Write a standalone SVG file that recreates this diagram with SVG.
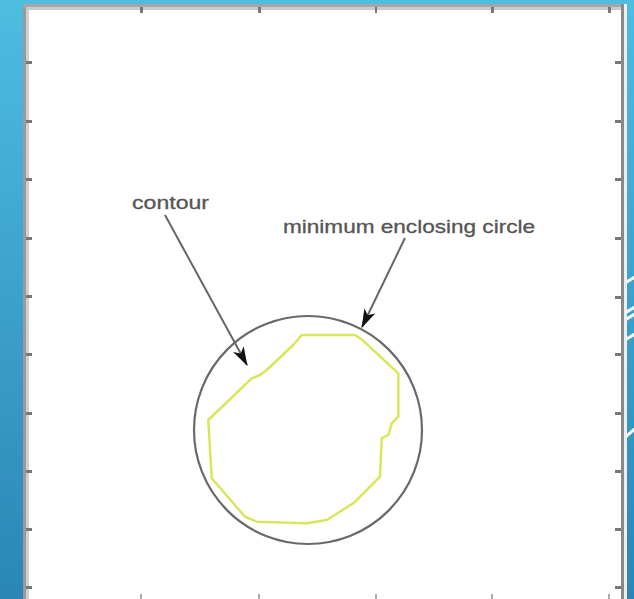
<svg xmlns="http://www.w3.org/2000/svg" width="634" height="599" viewBox="0 0 634 599">
  <defs>
    <linearGradient id="bg" x1="0" y1="0" x2="0" y2="1">
      <stop offset="0" stop-color="#4dbde0"/>
      <stop offset="1" stop-color="#2b86b5"/>
    </linearGradient>
    <marker id="arrow" markerUnits="userSpaceOnUse" viewBox="0 0 19 12" markerWidth="19" markerHeight="12" refX="18" refY="6" orient="auto">
      <path d="M0,0 L19,6 L0,12 L5,6 z" fill="#111"/>
    </marker>
    <clipPath id="strip"><rect x="627" y="0" width="7" height="599"/></clipPath>
  </defs>
  <style>
    .tick { fill: #777; }
    .label { font-family: "Liberation Sans", Arial, sans-serif; font-size: 19px; fill: #555555; stroke: #555555; stroke-width: 0.3; }
    .leader { stroke: #666666; stroke-width: 2; fill: none; marker-end: url(#arrow); }
    .deco { stroke: #ffffff; stroke-width: 3; }
  </style>

  <!-- background -->
  <rect x="0" y="0" width="634" height="599" fill="url(#bg)"/>
  <g clip-path="url(#strip)">
    <line class="deco" x1="620" y1="286" x2="640" y2="274"/>
    <line class="deco" x1="620" y1="316" x2="640" y2="304"/>
    <line class="deco" x1="620" y1="323" x2="640" y2="311"/>
    <line class="deco" x1="620" y1="343" x2="640" y2="331"/>
    <line class="deco" x1="620" y1="442" x2="640" y2="424" stroke-width="5"/>
  </g>

  <!-- plot frame -->
  <g id="frame">
    <rect x="23" y="4" width="604" height="600" fill="#ffffff"/>
    <rect x="23" y="4" width="3" height="595" fill="#9a9a9a"/>
    <rect x="26" y="7" width="3" height="592" fill="#d0d0d0"/>
    <rect x="23" y="4" width="601" height="3" fill="#a6a6a6"/>
    <rect x="26" y="7" width="595" height="3" fill="#cacaca"/>
    <rect x="621" y="4" width="3" height="595" fill="#8a8a8a"/>
    <rect x="624" y="4" width="3" height="595" fill="#eeeeee"/>
    <!-- top ticks -->
    <rect class="tick" x="140" y="7" width="3" height="6"/>
    <rect class="tick" x="258" y="7" width="3" height="6"/>
    <rect class="tick" x="375" y="7" width="2" height="6"/>
    <rect class="tick" x="491" y="7" width="3" height="6"/>
    <rect class="tick" x="608" y="7" width="3" height="6"/>
    <!-- bottom ticks -->
    <rect class="tick" x="140" y="594" width="2" height="5" opacity="0.6"/>
    <rect class="tick" x="258" y="594" width="2" height="5" opacity="0.6"/>
    <rect class="tick" x="375" y="594" width="2" height="5" opacity="0.6"/>
    <rect class="tick" x="491" y="594" width="2" height="5" opacity="0.6"/>
    <rect class="tick" x="608" y="594" width="2" height="5" opacity="0.6"/>
    <!-- left ticks -->
    <rect class="tick" x="26" y="61" width="6" height="3"/>
    <rect class="tick" x="26" y="120" width="6" height="3"/>
    <rect class="tick" x="26" y="178" width="6" height="3"/>
    <rect class="tick" x="26" y="237" width="6" height="3"/>
    <rect class="tick" x="26" y="295" width="6" height="3"/>
    <rect class="tick" x="26" y="353" width="6" height="3"/>
    <rect class="tick" x="26" y="412" width="6" height="3"/>
    <rect class="tick" x="26" y="470" width="6" height="3"/>
    <rect class="tick" x="26" y="528" width="6" height="3"/>
    <rect class="tick" x="26" y="586" width="6" height="3"/>
    <!-- right ticks -->
    <rect class="tick" x="615" y="61" width="6" height="3"/>
    <rect class="tick" x="615" y="120" width="6" height="3"/>
    <rect class="tick" x="615" y="178" width="6" height="3"/>
    <rect class="tick" x="615" y="237" width="6" height="3"/>
    <rect class="tick" x="615" y="296" width="6" height="3"/>
    <rect class="tick" x="615" y="353" width="6" height="3"/>
    <rect class="tick" x="615" y="412" width="6" height="3"/>
    <rect class="tick" x="615" y="470" width="6" height="3"/>
    <rect class="tick" x="615" y="528" width="6" height="3"/>
    <rect class="tick" x="615" y="586" width="6" height="3"/>
  </g>

  <!-- minimum enclosing circle -->
  <g id="circle">
    <circle cx="308" cy="430" r="114" fill="none" stroke="#6a6a6a" stroke-width="2.2"/>
  </g>

  <!-- contour -->
  <g id="contour">
    <polygon points="301.7,335 355,335 361.7,339.3 398.3,373.3 398.3,416.7 391.7,423.3 388.3,435 381.7,438.3 380,476.7 353.3,503.3 326.7,520 306.7,523.3 256.7,521.7 245,516.7 211.7,478.3 208.3,420 251.7,378.3 260,375 266.7,370 293.3,345" fill="none" stroke="#d9e65a" stroke-width="2.5" stroke-linejoin="round"/>
  </g>

  <!-- labels -->
  <g id="label-contour">
    <text class="label" x="132" y="209" textLength="77" lengthAdjust="spacingAndGlyphs">contour</text>
  </g>
  <g id="label-circle">
    <text class="label" x="283" y="233" textLength="252" lengthAdjust="spacingAndGlyphs">minimum enclosing circle</text>
  </g>

  <!-- connectors -->
  <g id="connectors">
    <line class="leader" x1="165" y1="215" x2="247" y2="365"/>
    <line class="leader" x1="405" y1="238" x2="362" y2="327"/>
  </g>
</svg>
